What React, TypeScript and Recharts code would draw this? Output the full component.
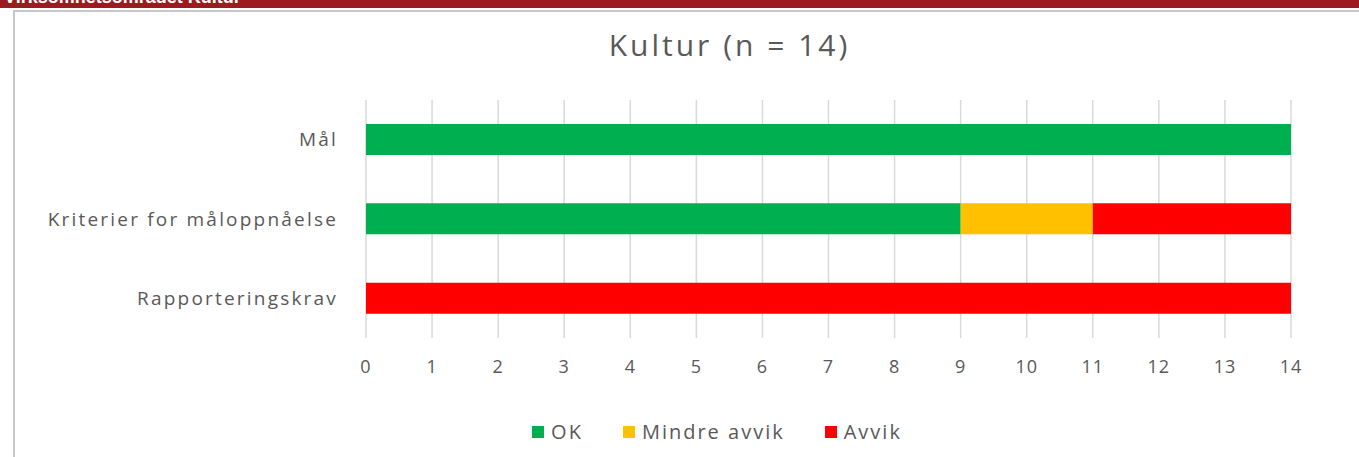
import React from 'react';
import { BarChart, Bar, XAxis, YAxis, CartesianGrid } from 'recharts';

// Chart data
const categories = ['Mål', 'Kriterier for måloppnåelse', 'Rapporteringskrav'];
const okValues = [14, 9, 0];
const mindreAvvikValues = [0, 2, 0];
const avvikValues = [0, 3, 14];
const xTicks = [0, 1, 2, 3, 4, 5, 6, 7, 8, 9, 10, 11, 12, 13, 14];

const series = [
  { key: 'ok', name: 'OK', color: '#00B050' },
  { key: 'mindre', name: 'Mindre avvik', color: '#FFC000' },
  { key: 'avvik', name: 'Avvik', color: '#FF0000' }
];

const data = categories.map((cat, i) => ({
  cat,
  ok: okValues[i],
  mindre: mindreAvvikValues[i],
  avvik: avvikValues[i]
}));

const FONT = '"Open Sans", sans-serif';
const TEXT = '#595959';

const App: React.FC = () => {
  return (
    <div style={{ position: 'absolute', left: 0, top: 0, width: 1359, height: 457, background: '#fff', overflow: 'hidden', fontFamily: FONT }}>
      {/* section header band, cut off at the top */}
      <div style={{ position: 'absolute', left: 0, top: 0, width: 1359, height: 8, background: '#9B1B1E', overflow: 'hidden' }}>
        <div style={{ position: 'absolute', left: 4, top: -13, color: '#fff', fontWeight: 'bold', fontSize: 18, fontFamily: 'Arial, sans-serif', whiteSpace: 'nowrap' }}>
          Virksomhetsområdet Kultur
        </div>
      </div>
      {/* chart frame */}
      <div style={{ position: 'absolute', left: 13, top: 10, width: 1346, height: 447, borderTop: '2px solid #C8C8C8', borderLeft: '2px solid #C8C8C8', boxSizing: 'border-box' }} />

      <div style={{ position: 'absolute', left: 0, top: 24, width: 1459, textAlign: 'center', color: TEXT, fontSize: 30, letterSpacing: 3 }}>
        Kultur (n = 14)
      </div>

      <div style={{ position: 'absolute', left: 0, top: 0 }}>
        <BarChart
          width={1359}
          height={457}
          data={data}
          layout="vertical"
          margin={{ top: 100, right: 68, bottom: 79, left: 0 }}
          barSize={31}
        >
          <CartesianGrid horizontal={false} stroke="#D9D9D9" strokeWidth={1.5} />
          <XAxis
            type="number"
            domain={[0, 14]}
            ticks={xTicks}
            interval={0}
            axisLine={false}
            tickLine={false}
            height={40}
            tickSize={0}
            tickMargin={22}
            tick={{ fill: TEXT, fontSize: 18, fontFamily: FONT, letterSpacing: 1 }}
          />
          <YAxis
            type="category"
            dataKey="cat"
            width={366}
            axisLine={false}
            tickLine={false}
            tickSize={0}
            tickMargin={28}
            tick={{ fill: TEXT, fontSize: 19, fontFamily: FONT, letterSpacing: 2.2 }}
          />
          {series.map((s) => (
            <Bar key={s.key} dataKey={s.key} name={s.name} stackId="a" fill={s.color} isAnimationActive={false} />
          ))}
        </BarChart>
      </div>

      {/* legend */}
      <div style={{ position: 'absolute', left: 0, top: 418, width: 1434, display: 'flex', justifyContent: 'center', gap: 40, color: TEXT, fontSize: 20, letterSpacing: 2 }}>
        {series.map((s) => (
          <div key={s.key} style={{ display: 'flex', alignItems: 'center' }}>
            <span style={{ display: 'inline-block', width: 12, height: 12, background: s.color, marginRight: 7 }} />
            <span>{s.name}</span>
          </div>
        ))}
      </div>
    </div>
  );
};

export default App;
